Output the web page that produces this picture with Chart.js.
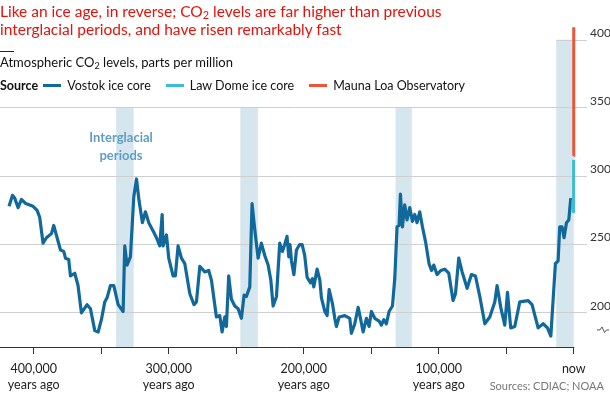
<!DOCTYPE html>
<html>
<head>
<meta charset="utf-8">
<script src="https://cdn.jsdelivr.net/npm/chart.js@4.4.1/dist/chart.umd.min.js"></script>
<style>
  body { margin: 0; background: #fff; font-family: Lato, sans-serif; }
  #wrap { position: relative; width: 610px; height: 399px; overflow: hidden; }
  #chart { position: absolute; left: 0; top: 0; }
  .txt { position: absolute; white-space: nowrap; }
  .title { left: 0; color: #e3120b; font-size: 15.5px; line-height: 18px; }
  .rule { position: absolute; left: 0; top: 51px; width: 14px; height: 1px; background: #222; }
  .sub { left: 0; top: 55px; font-size: 13px; line-height: 14px; color: #111; }
  .legend { left: 0; top: 79px; font-size: 12.5px; line-height: 14px; color: #111; }
  .legend b { font-weight: 700; margin-right: 5px; }
  .sw { display: inline-block; width: 18px; height: 3px; vertical-align: middle; margin: 0 6px 2px 0; }
  .legend .item { margin-right: 15px; }
  sub { font-size: 70%; line-height: 0; vertical-align: -2px; }
  .inter { left: 88px; top: 128px; width: 66px; text-align: center; color: #5f9dc4; font-size: 13px; line-height: 18px; font-weight: 700; }
  .src { right: 6px; top: 379px; font-size: 11px; color: #777; }
</style>
</head>
<body>
<div id="wrap">
  <canvas id="chart" width="610" height="399"></canvas>
  <div class="txt title" style="top:2px">Like an ice age, in reverse; CO<sub>2</sub> levels are far higher than previous</div>
  <div class="txt title" style="top:20px">interglacial periods, and have risen remarkably fast</div>
  <div class="rule"></div>
  <div class="txt sub">Atmospheric CO<sub>2</sub> levels, parts per million</div>
  <div class="txt legend"><b>Source</b><span class="item"><span class="sw" style="background:#11699b"></span>Vostok ice core</span><span class="item"><span class="sw" style="background:#3ebcd2"></span>Law Dome ice core</span><span class="item"><span class="sw" style="background:#eb5638"></span>Mauna Loa Observatory</span></div>
  <div class="txt inter">Interglacial<br>periods</div>
  <div class="txt src">Sources: CDIAC; NOAA</div>
</div>
<script>
// thousands of years ago / ppm
const vostokAge = [418.3, 415.8, 414.1, 411.6, 409.1, 405.9, 400.5, 397.5, 395.6, 393.1, 390.6, 386.9, 385.2, 382.7, 380.2, 377.8, 376.5, 374.1, 372.8, 369.6,
  367.2, 364.7, 360.5, 358, 354.8, 352.3, 349.9, 347.4, 345.7, 343.2, 340.7, 337.5, 333.8, 332.6, 330.9, 328.4, 325.9, 323.9, 322, 319.5,
  317.3, 314.8, 311.6, 309.1, 306.7, 304.9, 304.2, 301.7, 300, 296.8, 295.1, 293.1, 290.6, 288.1, 284.4, 281.3, 279.5, 277, 273.3, 270.4,
  268.4, 264.7, 262.2, 260.5, 258.5, 257.3, 255.6, 253.6, 251.1, 248.6, 246.2, 244.2, 242.5, 240, 238.3, 236.3, 233.8, 231.4, 228.9, 226.4,
  224.4, 222.7, 220.2, 217.8, 215.8, 214.1, 212.4, 211.1, 210.2, 209.1, 207.3, 205.4, 203, 201.2, 199.3, 197.5, 195, 193.6, 192.6, 190.1,
  188.1, 186.9, 184.4, 182.7, 181.2, 178.8, 177, 175.8, 173.8, 169.6, 165.9, 164.7, 162.2, 159.7, 158, 156, 153.6, 151.6, 149.9, 147.4,
  144.2, 142.5, 140.7, 138.8, 136.8, 134.3, 132.6, 130.9, 129.4, 128.4, 126.9, 125.2, 123.5, 121.5, 119.5, 117.8, 116.1, 114.1, 112.1, 109.6,
  107.2, 105.4, 103.7, 101.3, 98.5, 95.6, 92.6, 89.4, 87.6, 85.2, 82.7, 79, 75.8, 72.8, 69.6, 65.9, 62.2, 58.5, 56.8, 54.1,
  51.1, 49.1, 46.7, 43.7, 40, 33.8, 30.9, 26.4, 22.7, 19.5, 17, 13.6, 11.6, 10.4, 8.7, 7.2, 5.4, 3.7, 2.2];
const vostokCO2 = [278, 286, 284, 277, 283, 280, 278, 275, 270, 251, 255, 258, 264, 255, 246, 245, 240, 239, 227, 229,
  220, 200, 206, 203, 187, 186, 195, 208, 211, 220, 220, 206, 201, 249, 235, 241, 285, 298, 282, 266,
  274, 266, 260, 255, 249, 272, 249, 257, 240, 227, 227, 249, 240, 236, 214, 206, 208, 234, 230, 231,
  224, 197, 198, 186, 197, 190, 227, 210, 205, 203, 196, 213, 212, 219, 280, 261, 240, 251, 242, 235,
  224, 205, 212, 251, 245, 250, 256, 241, 250, 238, 228, 246, 250, 250, 242, 226, 222, 225, 219, 232,
  224, 211, 201, 198, 217, 207, 196, 190, 197, 198, 196, 185, 192, 204, 196, 186, 196, 190, 201, 196,
  194, 191, 195, 192, 201, 205, 225, 263, 264, 287, 263, 279, 268, 277, 267, 272, 266, 274, 263, 251,
  236, 231, 235, 228, 231, 232, 229, 209, 214, 240, 230, 218, 228, 227, 212, 192, 197, 208, 220, 204,
  191, 215, 189, 190, 208, 209, 206, 189, 192, 189, 183, 236, 238, 263, 263, 255, 266, 268, 284];
const lawDomeAge = [1.01, 0.8, 0.6, 0.42, 0.25, 0.15, 0.1, 0.06];
const lawDomeCO2 = [280, 282, 280, 274, 278, 285, 295, 312];
const maunaLoaAge = [0.06, 0.048, 0.038, 0.028, 0.018, 0.008, 0];
const maunaLoaCO2 = [315, 325, 338, 354, 369, 389, 409];

// interglacial periods, thousands of years ago
const bandFrom = [339, 247, 132, 13];
const bandTo = [326, 234, 120, 0];
const bandTop = [350, 350, 350, 400];

const xTickVals = [-400, -350, -300, -250, -200, -150, -100, -50, 0];
const xTickLabels = [['400,000', 'years ago'], '', ['300,000', 'years ago'], '', ['200,000', 'years ago'], '', ['100,000', 'years ago'], '', 'now'];
const yTickVals = [200, 250, 300, 350, 400];

function toPoints(ages, vals) {
    return ages.map((a, i) => ({ x: -a, y: vals[i] }));
}

const extras = {
    id: 'extras',
    beforeDraw(chart) {
        const { ctx, scales: { x, y } } = chart;
        ctx.save();
        ctx.fillStyle = '#d6e6ef';
        bandFrom.forEach((from, i) => {
            const x0 = x.getPixelForValue(-from);
            const x1 = x.getPixelForValue(-bandTo[i]);
            const yTop = y.getPixelForValue(bandTop[i]);
            ctx.fillRect(x0, yTop, x1 - x0, y.bottom - yTop);
        });
        ctx.restore();
    },
    beforeDatasetsDraw(chart) {
        const { ctx, chartArea, scales: { x, y } } = chart;
        ctx.save();
        // the 400 line only runs over the last band
        ctx.strokeStyle = '#cfcfcf';
        ctx.lineWidth = 1;
        const yy = Math.round(y.getPixelForValue(400)) + 0.5;
        ctx.beginPath();
        ctx.moveTo(x.getPixelForValue(-bandFrom[3]), yy);
        ctx.lineTo(chartArea.right, yy);
        ctx.stroke();
        ctx.restore();
    },
    afterDraw(chart) {
        const { ctx, chartArea, scales: { x, y } } = chart;
        ctx.save();
        ctx.strokeStyle = '#333';
        ctx.lineWidth = 1;
        const yb = Math.round(chartArea.bottom) + 0.5;
        ctx.beginPath();
        ctx.moveTo(chartArea.left, yb);
        ctx.lineTo(x.getPixelForValue(0) + 0.5, yb);
        ctx.stroke();
        // axis break mark
        const yk = y.getPixelForValue(187.5);
        ctx.strokeStyle = '#555';
        ctx.beginPath();
        ctx.moveTo(597, yk);
        ctx.lineTo(600, yk);
        ctx.lineTo(602, yk - 3);
        ctx.lineTo(604.5, yk + 2.5);
        ctx.lineTo(606.5, yk);
        ctx.lineTo(609, yk);
        ctx.stroke();
        ctx.restore();
    }
};

Chart.defaults.font.family = 'Lato, sans-serif';
Chart.defaults.color = '#222';

new Chart(document.getElementById('chart'), {
    type: 'line',
    data: {
        datasets: [
            { label: 'Vostok ice core', data: toPoints(vostokAge, vostokCO2), borderColor: '#11699b', borderWidth: 3.2, order: 2 },
            { label: 'Law Dome ice core', data: toPoints(lawDomeAge, lawDomeCO2), borderColor: '#3ebcd2', borderWidth: 3, order: 1 },
            { label: 'Mauna Loa Observatory', data: toPoints(maunaLoaAge, maunaLoaCO2), borderColor: '#eb5638', borderWidth: 3, order: 0 }
        ]
    },
    options: {
        responsive: false,
        animation: false,
        layout: { padding: { top: 26, left: 0, right: 0, bottom: 0 } },
        elements: {
            point: { radius: 0 },
            line: { tension: 0, borderJoinStyle: 'round', borderCapStyle: 'butt' }
        },
        plugins: { legend: { display: false }, tooltip: { enabled: false } },
        scales: {
            x: {
                type: 'linear',
                min: -425,
                max: 9.8,
                afterBuildTicks: s => { s.ticks = xTickVals.map(v => ({ value: v })); },
                afterFit: s => { s.height = 52; },
                border: { display: false },
                grid: { drawOnChartArea: false, drawTicks: true, tickLength: 7, color: '#333' },
                ticks: {
                    autoSkip: false,
                    maxRotation: 0,
                    padding: 7,
                    color: '#222',
                    font: { size: 12.5, lineHeight: 1.3 },
                    callback: v => xTickLabels[xTickVals.indexOf(v)]
                }
            },
            y: {
                position: 'right',
                min: 175,
                max: 410,
                afterBuildTicks: s => { s.ticks = yTickVals.map(v => ({ value: v })); },
                afterFit: s => { s.width = 23; },
                border: { display: false },
                grid: {
                    drawTicks: false,
                    color: c => (c.tick && c.tick.value === 400) ? 'rgba(0,0,0,0)' : '#cfcfcf'
                },
                ticks: { padding: 3, labelOffset: -7, color: '#333', font: { size: 12 } }
            }
        }
    },
    plugins: [extras]
});
</script>
</body>
</html>
